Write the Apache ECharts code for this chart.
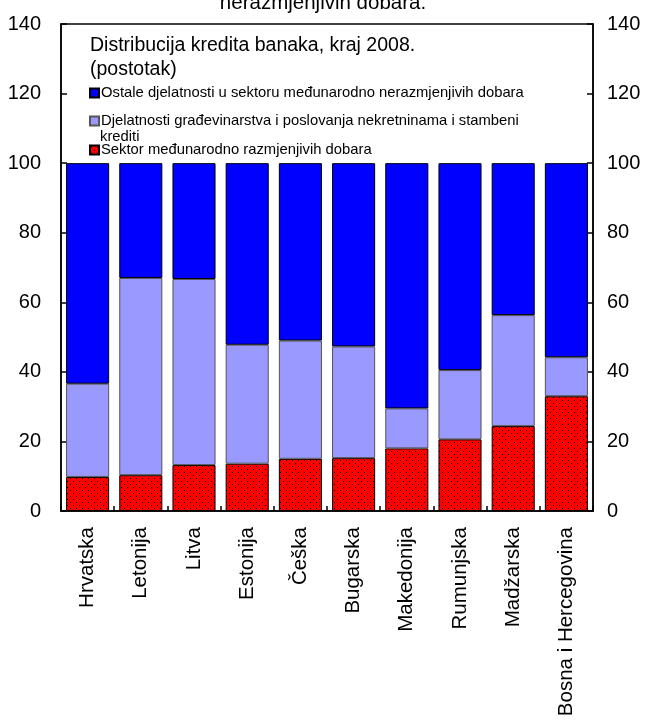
<!DOCTYPE html>
<html>
<head>
<meta charset="utf-8">
<script src="https://cdn.jsdelivr.net/npm/echarts@6/dist/echarts.min.js"></script>
<style>
  html, body { margin: 0; padding: 0; background: #fff; }
  #chart { width: 646px; height: 722px; }
</style>
</head>
<body>
<div id="chart"></div>
<script>
const categories = ["Hrvatska", "Letonija", "Litva", "Estonija", "Češka", "Bugarska",
  "Makedonija", "Rumunjska", "Madžarska", "Bosna i Hercegovina"];
// sektor medunarodno razmjenjivih dobara (dno)
const tradable = [9.8, 10.3, 13.2, 13.6, 15.0, 15.2, 18.0, 20.6, 24.4, 33.0];
// gradevinarstvo, nekretnine, stambeni krediti
const construction = [26.8, 56.7, 53.5, 34.2, 34.0, 32.1, 11.5, 19.9, 31.9, 11.2];
// ostale djelatnosti (do 100)
const otherNonTradable = [63.4, 33.0, 33.3, 52.2, 51.0, 52.7, 70.5, 59.5, 43.7, 55.8];
const yTicks = [0, 20, 40, 60, 80, 100, 120, 140];

const names = [
  "Sektor međunarodno razmjenjivih dobara",
  "Djelatnosti građevinarstva i poslovanja nekretninama i stambeni krediti",
  "Ostale djelatnosti u sektoru međunarodno nerazmjenjivih dobara",
];

const font = "Liberation Sans, Arial, sans-serif";

// crveno s tockicama
const dotCanvas = document.createElement("canvas");
dotCanvas.width = 6;
dotCanvas.height = 6;
const ctx = dotCanvas.getContext("2d");
ctx.fillStyle = "#ff0000";
ctx.fillRect(0, 0, 6, 6);
ctx.fillStyle = "#000";
ctx.fillRect(1, 1, 1, 1);
ctx.fillRect(4, 4, 1, 1);
const redDots = { image: dotCanvas, repeat: "repeat" };

const chart = echarts.init(document.getElementById("chart"));

const yAxisBase = {
  type: "value",
  min: yTicks[0],
  max: yTicks[yTicks.length - 1],
  interval: 20,
  splitLine: { show: false },
  axisLine: { show: true, lineStyle: { color: "#000", width: 1.5 } },
  axisTick: { show: true, inside: true, length: 6, lineStyle: { color: "#000", width: 1.5 } },
};

const legendBase = {
  orient: "vertical",
  left: 89,
  padding: 0,
  itemWidth: 9,
  itemHeight: 9,
  icon: "rect",
  textStyle: { fontFamily: font, fontSize: 14.8, color: "#000", padding: [0, 0, 0, -3], lineHeight: 15 },
  selectedMode: false,
};

const option = {
  animation: false,
  backgroundColor: "#fff",
  title: [
    {
      text: "nerazmjenjivih dobara.",
      left: "center",
      top: -14,
      textStyle: { fontFamily: font, fontSize: 20.5, fontWeight: "normal", color: "#000", lineHeight: 24 },
    },
    {
      text: "Distribucija kredita banaka, kraj 2008.\n(postotak)",
      left: 85,
      top: 29,
      textStyle: { fontFamily: font, fontSize: 19.5, fontWeight: "normal", color: "#000", lineHeight: 24 },
    },
  ],
  legend: [
    Object.assign({}, legendBase, { top: 85.5, data: [names[2]] }),
    Object.assign({}, legendBase, { top: 113.5, data: [names[1]], formatter: (n) => n.replace(" krediti", "") }),
    Object.assign({}, legendBase, { top: 142.5, data: [names[0]] }),
  ],
  graphic: [
    {
      type: "text",
      left: 100,
      top: 129,
      style: { text: "krediti", font: "14.8px " + font, fill: "#000" },
    },
  ],
  grid: {
    left: 61,
    right: 53,
    top: 24,
    bottom: 211,
    show: true,
    borderColor: "#000",
    borderWidth: 1.5,
  },
  xAxis: {
    type: "category",
    data: categories,
    axisLine: { show: true, lineStyle: { color: "#000", width: 1.5 } },
    axisTick: { show: true, inside: true, length: 5, lineStyle: { color: "#000", width: 1.5 } },
    axisLabel: {
      rotate: 90,
      interval: 0,
      margin: 16,
      fontFamily: font,
      fontSize: 20.5,
      color: "#000",
    },
  },
  yAxis: [
    Object.assign({}, yAxisBase, {
      position: "left",
      axisLabel: { fontFamily: font, fontSize: 20, color: "#000", margin: 20 },
    }),
    Object.assign({}, yAxisBase, {
      position: "right",
      axisLabel: { fontFamily: font, fontSize: 20, color: "#000", margin: 14 },
    }),
  ],
  series: [
    {
      name: names[0],
      type: "bar",
      stack: "total",
      barCategoryGap: "19%",
      data: tradable,
      itemStyle: { color: redDots, borderColor: "#000", borderWidth: 1 },
    },
    {
      name: names[1],
      type: "bar",
      stack: "total",
      data: construction,
      itemStyle: { color: "#9999ff", borderColor: "#555", borderWidth: 1 },
    },
    {
      name: names[2],
      type: "bar",
      stack: "total",
      data: otherNonTradable,
      itemStyle: { color: "#0000ff", borderColor: "#000", borderWidth: 1 },
    },
  ],
};

chart.setOption(option);
</script>
</body>
</html>
